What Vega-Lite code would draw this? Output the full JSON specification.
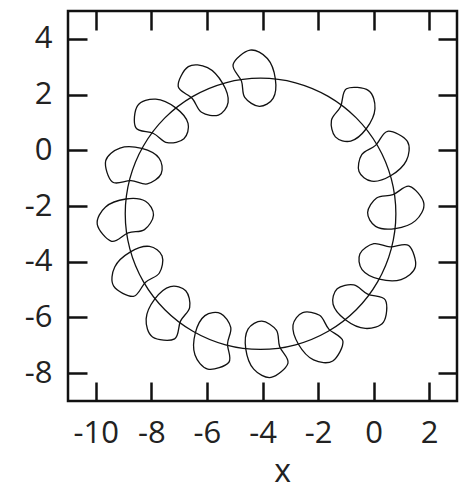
{
  "$schema": "https://vega.github.io/schema/vega-lite/v6.json",
  "width": 389,
  "height": 390,
  "autosize": "none",
  "padding": {"left": 68, "top": 11, "right": 4, "bottom": 90},
  "background": "white",
  "config": {
    "view": {"stroke": "#111", "strokeWidth": 2.5},
    "axis": {
      "grid": false,
      "domain": false,
      "tickColor": "#111",
      "tickWidth": 2.5,
      "tickSize": -19,
      "labelFont": "Open Sans",
      "labelFontSize": 31,
      "labelColor": "#222",
      "labelExpr": "'' + datum.value",
      "titleFont": "Open Sans",
      "titleFontWeight": "normal",
      "titleFontSize": 32,
      "titleColor": "#222"
    }
  },
  "datasets": {
    "orbit": [
      {"deg": 0, "x": 0.800, "y": -2.280},
      {"deg": 15, "x": 0.634, "y": -1.020},
      {"deg": 30, "x": 0.147, "y": 0.155},
      {"deg": 45, "x": -0.626, "y": 1.164},
      {"deg": 60, "x": -1.635, "y": 1.937},
      {"deg": 75, "x": -2.810, "y": 2.424},
      {"deg": 90, "x": -4.070, "y": 2.590},
      {"deg": 105, "x": -5.330, "y": 2.424},
      {"deg": 120, "x": -6.505, "y": 1.937},
      {"deg": 135, "x": -7.514, "y": 1.164},
      {"deg": 150, "x": -8.287, "y": 0.155},
      {"deg": 165, "x": -8.774, "y": -1.020},
      {"deg": 180, "x": -8.940, "y": -2.280},
      {"deg": 195, "x": -8.774, "y": -3.540},
      {"deg": 210, "x": -8.287, "y": -4.715},
      {"deg": 225, "x": -7.514, "y": -5.724},
      {"deg": 240, "x": -6.505, "y": -6.497},
      {"deg": 255, "x": -5.330, "y": -6.984},
      {"deg": 270, "x": -4.070, "y": -7.150},
      {"deg": 285, "x": -2.810, "y": -6.984},
      {"deg": 300, "x": -1.635, "y": -6.497},
      {"deg": 315, "x": -0.626, "y": -5.724},
      {"deg": 330, "x": 0.147, "y": -4.715},
      {"deg": 345, "x": 0.634, "y": -3.540}
    ],
    "loops": [
      {"x": -4.282, "y": 2.585, "heading": -2.5},
      {"x": -6.128, "y": 2.134, "heading": -25},
      {"x": -7.661, "y": 1.010, "heading": -47.5},
      {"x": -8.646, "y": -0.614, "heading": -70},
      {"x": -8.935, "y": -2.492, "heading": -92.5},
      {"x": -8.484, "y": -4.338, "heading": -115},
      {"x": -7.360, "y": -5.871, "heading": -137.5},
      {"x": -5.736, "y": -6.856, "heading": -160},
      {"x": -3.858, "y": -7.145, "heading": -182.5},
      {"x": -2.012, "y": -6.694, "heading": -205},
      {"x": -0.479, "y": -5.570, "heading": -227.5},
      {"x": 0.506, "y": -3.946, "heading": -250},
      {"x": 0.795, "y": -2.068, "heading": 87.5},
      {"x": 0.344, "y": -0.222, "heading": 65},
      {"x": -0.780, "y": 1.311, "heading": 42.5}
    ]
  },
  "layer": [
    {
      "data": {"name": "orbit"},
      "mark": {"type": "line", "interpolate": "cardinal-closed", "stroke": "#111", "strokeWidth": 1.3},
      "encoding": {
        "x": {
          "field": "x", "type": "quantitative",
          "scale": {"domain": [-11, 3], "nice": false, "zero": false},
          "axis": {"orient": "bottom", "values": [-10, -8, -6, -4, -2, 0, 2], "title": "x", "labelPadding": 36, "titleX": 214, "titleY": 80, "titleBaseline": "alphabetic", "titleAlign": "center"}
        },
        "y": {
          "field": "y", "type": "quantitative",
          "scale": {"domain": [-9, 5], "nice": false, "zero": false},
          "axis": {"orient": "left", "values": [-8, -6, -4, -2, 0, 2, 4], "title": null, "labelPadding": 35}
        },
        "order": {"field": "deg", "type": "quantitative"}
      }
    },
    {
      "data": {"name": "loops"},
      "mark": {
        "type": "point",
        "shape": "M-0.12,-1 C0.083,-1.027 0.338,-0.855 0.48,-0.68 C0.622,-0.505 0.707,-0.187 0.73,0.05 C0.753,0.287 0.722,0.582 0.62,0.74 C0.518,0.898 0.287,1.013 0.12,1 C-0.047,0.987 -0.282,0.813 -0.38,0.66 C-0.478,0.507 -0.41,0.277 -0.47,0.08 C-0.53,-0.117 -0.798,-0.34 -0.74,-0.52 C-0.682,-0.7 -0.323,-0.973 -0.12,-1 Z",
        "size": 3200,
        "filled": false,
        "stroke": "#111",
        "strokeWidth": 1.3,
        "opacity": 1
      },
      "encoding": {
        "x": {
          "field": "x", "type": "quantitative",
          "axis": {"orient": "top", "values": [-10, -8, -6, -4, -2, 0, 2], "labels": false, "title": null}
        },
        "y": {
          "field": "y", "type": "quantitative",
          "axis": {"orient": "right", "values": [-8, -6, -4, -2, 0, 2, 4], "labels": false, "title": null}
        },
        "angle": {"field": "heading", "type": "quantitative", "scale": null}
      }
    }
  ]
}
